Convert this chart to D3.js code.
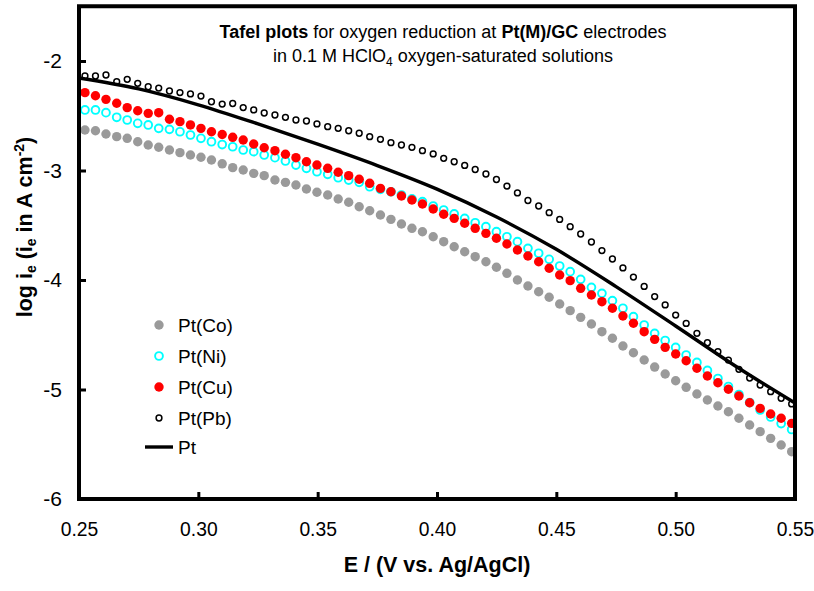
<!DOCTYPE html>
<html>
<head>
<meta charset="utf-8">
<script src="https://cdn.jsdelivr.net/npm/d3@7"></script>
<style>
  html, body { margin: 0; padding: 0; background: #fff; }
  svg { display: block; font-family: "Liberation Sans", Arial, sans-serif; }
</style>
</head>
<body>
<div class="chart"></div>
<script>
// potential (V vs. Ag/AgCl) for the marker series
const potential = [
  0.2525, 0.2569, 0.2613, 0.2658, 0.2702, 0.2746, 0.2790, 0.2834, 0.2879, 0.2923,
  0.2967, 0.3011, 0.3055, 0.3100, 0.3144, 0.3188, 0.3232, 0.3276, 0.3321, 0.3365,
  0.3409, 0.3453, 0.3497, 0.3542, 0.3586, 0.3630, 0.3674, 0.3718, 0.3763, 0.3807,
  0.3851, 0.3895, 0.3939, 0.3984, 0.4028, 0.4072, 0.4116, 0.4160, 0.4205, 0.4249,
  0.4293, 0.4337, 0.4381, 0.4426, 0.4470, 0.4514, 0.4558, 0.4602, 0.4647, 0.4691,
  0.4735, 0.4779, 0.4823, 0.4868, 0.4912, 0.4956, 0.5000, 0.5044, 0.5089, 0.5133,
  0.5177, 0.5221, 0.5265, 0.5310, 0.5354, 0.5398, 0.5442, 0.5486
];

const logCo = [
  -2.630, -2.637, -2.667, -2.691, -2.706, -2.737, -2.767, -2.788, -2.813, -2.837,
  -2.858, -2.879, -2.904, -2.939, -2.974, -2.995, -3.026, -3.047, -3.087, -3.108,
  -3.132, -3.169, -3.199, -3.224, -3.260, -3.290, -3.331, -3.368, -3.406, -3.446,
  -3.489, -3.528, -3.559, -3.605, -3.650, -3.696, -3.742, -3.787, -3.833, -3.884,
  -3.939, -4.000, -4.055, -4.107, -4.158, -4.219, -4.280, -4.341, -4.402, -4.472,
  -4.532, -4.603, -4.664, -4.731, -4.795, -4.858, -4.920, -4.980, -5.041, -5.096,
  -5.151, -5.203, -5.263, -5.324, -5.385, -5.446, -5.507, -5.568
];

const logNi = [
  -2.447, -2.447, -2.472, -2.514, -2.539, -2.569, -2.584, -2.615, -2.624, -2.646,
  -2.676, -2.706, -2.737, -2.763, -2.783, -2.813, -2.828, -2.858, -2.883, -2.913,
  -2.950, -2.980, -3.011, -3.035, -3.066, -3.087, -3.108, -3.148, -3.172, -3.194,
  -3.224, -3.260, -3.285, -3.324, -3.361, -3.397, -3.437, -3.477, -3.513, -3.559,
  -3.605, -3.650, -3.711, -3.756, -3.811, -3.872, -3.924, -3.994, -4.067, -4.122,
  -4.189, -4.258, -4.335, -4.411, -4.487, -4.553, -4.616, -4.685, -4.753, -4.826,
  -4.900, -4.973, -5.046, -5.119, -5.187, -5.251, -5.311, -5.365
];

const logCu = [
  -2.289, -2.317, -2.350, -2.386, -2.426, -2.454, -2.478, -2.472, -2.532, -2.554,
  -2.584, -2.615, -2.646, -2.671, -2.697, -2.721, -2.758, -2.792, -2.819, -2.852,
  -2.883, -2.920, -2.950, -2.980, -3.016, -3.047, -3.080, -3.117, -3.163, -3.194,
  -3.233, -3.269, -3.306, -3.352, -3.400, -3.437, -3.482, -3.528, -3.574, -3.619,
  -3.671, -3.726, -3.781, -3.833, -3.893, -3.954, -4.006, -4.076, -4.137, -4.198,
  -4.258, -4.329, -4.395, -4.472, -4.542, -4.615, -4.676, -4.737, -4.806, -4.877,
  -4.938, -4.998, -5.059, -5.121, -5.172, -5.224, -5.263, -5.309
];

const logPb = [
  -2.137, -2.137, -2.128, -2.189, -2.167, -2.204, -2.235, -2.247, -2.274, -2.288,
  -2.301, -2.320, -2.372, -2.393, -2.388, -2.425, -2.447, -2.475, -2.493, -2.514,
  -2.539, -2.548, -2.575, -2.600, -2.615, -2.637, -2.660, -2.691, -2.715, -2.746,
  -2.767, -2.788, -2.819, -2.849, -2.889, -2.920, -2.954, -2.991, -3.032, -3.082,
  -3.142, -3.205, -3.274, -3.324, -3.385, -3.447, -3.513, -3.580, -3.653, -3.731,
  -3.808, -3.890, -3.973, -4.059, -4.151, -4.228, -4.320, -4.397, -4.487, -4.573,
  -4.655, -4.731, -4.816, -4.895, -4.959, -5.020, -5.080, -5.132
];

// bare Pt, drawn as a line
const ptPotential = [0.25, 0.275, 0.30, 0.325, 0.35, 0.375, 0.40, 0.425, 0.45, 0.475, 0.50, 0.525, 0.55];
const logPt = [-2.155, -2.255, -2.400, -2.575, -2.760, -2.955, -3.170, -3.425, -3.720, -4.060, -4.420, -4.785, -5.123];

const xTicks = [0.25, 0.30, 0.35, 0.40, 0.45, 0.50, 0.55];
const yTicks = [-2, -3, -4, -5, -6];

const series = [
  { name: "Pt(Co)", values: logCo, r: 4.7, fill: "#9a9a9a", stroke: "none", sw: 0 },
  { name: "Pt(Ni)", values: logNi, r: 3.9, fill: "#fff", stroke: "#00ffff", sw: 1.9 },
  { name: "Pt(Cu)", values: logCu, r: 4.7, fill: "#ff0000", stroke: "none", sw: 0 },
  { name: "Pt(Pb)", values: logPb, r: 2.9, fill: "#fff", stroke: "#000", sw: 1.5 }
];

const W = 814, H = 591;
const margin = { top: 6.25, right: 19, bottom: 92, left: 79 };

const svg = d3.select(".chart").append("svg")
  .attr("width", W)
  .attr("height", H);

const x = d3.scaleLinear()
  .domain([0.25, 0.55])
  .range([margin.left, W - margin.right]);

const y = d3.scaleLinear()
  .domain([-6, -1.5])
  .range([H - margin.bottom, margin.top]);

// axes with inward ticks
const yAxis = svg.append("g")
  .attr("transform", `translate(${margin.left},0)`)
  .call(d3.axisLeft(y).tickValues(yTicks).tickSizeInner(-7).tickSizeOuter(0).tickPadding(17)
    .tickFormat(d => String(d)));
yAxis.select(".domain").remove();
yAxis.selectAll("line").attr("stroke-width", 3);
yAxis.selectAll("text").attr("font-size", 21).attr("fill", "#000")
  .style("font-family", "'Liberation Sans', Arial, sans-serif");

const xAxis = svg.append("g")
  .attr("transform", `translate(0,${H - margin.bottom})`)
  .call(d3.axisBottom(x).tickValues(xTicks).tickSizeInner(-7).tickSizeOuter(0).tickPadding(22)
    .tickFormat(d3.format(".2f")));
xAxis.select(".domain").remove();
xAxis.selectAll("line").attr("stroke-width", 3);
xAxis.selectAll("text").attr("font-size", 21).attr("fill", "#000")
  .attr("transform", "scale(0.92,1)")
  .style("font-family", "'Liberation Sans', Arial, sans-serif");

// marker series
series.forEach(s => {
  svg.append("g")
    .selectAll("circle")
    .data(potential.map((e, i) => ({ e, v: s.values[i] })))
    .join("circle")
    .attr("cx", d => x(d.e))
    .attr("cy", d => y(d.v))
    .attr("r", s.r)
    .attr("fill", s.fill)
    .attr("stroke", s.stroke)
    .attr("stroke-width", s.sw);
});

// Pt line
svg.append("path")
  .datum(ptPotential.map((e, i) => ({ e, v: logPt[i] })))
  .attr("fill", "none")
  .attr("stroke", "#000")
  .attr("stroke-width", 3.4)
  .attr("d", d3.line()
    .x(d => x(d.e))
    .y(d => y(d.v))
    .curve(d3.curveMonotoneX));

// frame
svg.append("rect")
  .attr("x", margin.left)
  .attr("y", margin.top)
  .attr("width", W - margin.left - margin.right)
  .attr("height", H - margin.top - margin.bottom)
  .attr("fill", "none")
  .attr("stroke", "#000")
  .attr("stroke-width", 4);

// title
const title = svg.append("text")
  .attr("text-anchor", "middle")
  .attr("font-size", 18)
  .attr("fill", "#000");
const t1 = title.append("tspan").attr("x", 443).attr("y", 38);
t1.append("tspan").attr("font-weight", "bold").text("Tafel plots");
t1.append("tspan").text(" for oxygen reduction at ");
t1.append("tspan").attr("font-weight", "bold").text("Pt(M)/GC");
t1.append("tspan").text(" electrodes");
const t2 = title.append("tspan").attr("x", 443).attr("y", 62);
t2.append("tspan").text("in 0.1 M HClO");
t2.append("tspan").attr("font-size", 12).attr("dy", 4).text("4");
t2.append("tspan").attr("dy", -4).text(" oxygen-saturated solutions");

// axis titles
svg.append("text")
  .attr("x", 437)
  .attr("y", 572)
  .attr("text-anchor", "middle")
  .attr("font-size", 21.5)
  .attr("font-weight", "bold")
  .text("E / (V vs. Ag/AgCl)");

const yl = svg.append("text")
  .attr("transform", "translate(32,227) rotate(-90)")
  .attr("text-anchor", "middle")
  .attr("font-size", 21.5)
  .attr("font-weight", "bold");
yl.append("tspan").text("log i");
yl.append("tspan").attr("font-size", 14).attr("dy", 4).text("e");
yl.append("tspan").attr("dy", -4).text(" (i");
yl.append("tspan").attr("font-size", 14).attr("dy", 4).text("e");
yl.append("tspan").attr("dy", -4).text(" in A cm");
yl.append("tspan").attr("font-size", 14).attr("dy", -8).text("-2");
yl.append("tspan").attr("dy", 8).text(")");

// legend
const legendY = [325, 356, 387, 418];
const legend = svg.append("g");
series.forEach((s, i) => {
  legend.append("circle")
    .attr("cx", 159)
    .attr("cy", legendY[i])
    .attr("r", s.r)
    .attr("fill", s.fill)
    .attr("stroke", s.stroke)
    .attr("stroke-width", s.sw);
  legend.append("text")
    .attr("x", 178)
    .attr("y", legendY[i] + 7)
    .attr("font-size", 19)
    .text(s.name);
});
legend.append("line")
  .attr("x1", 145).attr("x2", 173)
  .attr("y1", 447).attr("y2", 447)
  .attr("stroke", "#000")
  .attr("stroke-width", 3.4);
legend.append("text")
  .attr("x", 178)
  .attr("y", 454)
  .attr("font-size", 19)
  .text("Pt");
</script>
</body>
</html>
